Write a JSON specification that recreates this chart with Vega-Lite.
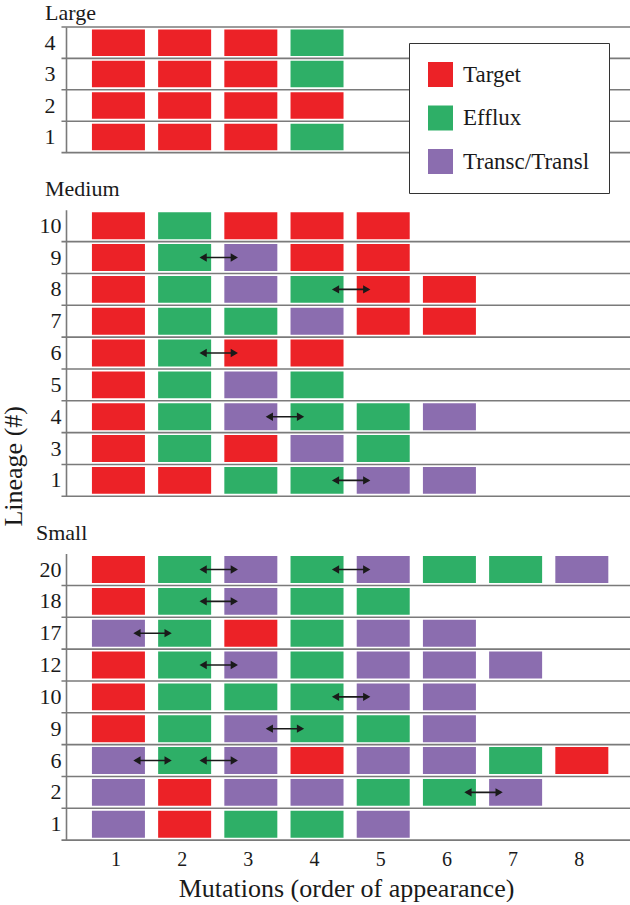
{
  "$schema": "https://vega.github.io/schema/vega-lite/v6.json",
  "autosize": {"type": "pad"},
  "padding": {"left": 0, "top": 2, "right": 0, "bottom": 0},
  "background": "white",
  "config": {
    "view": {"stroke": null},
    "font": "Liberation Serif",
    "axis": {"labelFont": "Liberation Serif", "titleFont": "Liberation Serif", "labelColor": "#1a1a1a", "titleColor": "#1a1a1a", "titleFontWeight": "normal"},
    "title": {"font": "Liberation Serif", "fontSize": 22, "fontWeight": "normal", "color": "#1a1a1a", "anchor": "start", "frame": "group", "dx": -21, "offset": 9},
    "legend": {"labelFont": "Liberation Serif", "labelFontSize": 23, "labelColor": "#1a1a1a", "symbolType": "square", "symbolSize": 625, "symbolStrokeWidth": 0, "symbolOpacity": 1, "labelOffset": 10, "rowPadding": 18.5, "padding": 19, "fillColor": "white", "strokeColor": "#333333"}
  },
  "datasets": {
    "cells": [
      {"panel": "Large", "lineage": "4", "mut": 1, "type": "Target"},
      {"panel": "Large", "lineage": "4", "mut": 2, "type": "Target"},
      {"panel": "Large", "lineage": "4", "mut": 3, "type": "Target"},
      {"panel": "Large", "lineage": "4", "mut": 4, "type": "Efflux"},
      {"panel": "Large", "lineage": "3", "mut": 1, "type": "Target"},
      {"panel": "Large", "lineage": "3", "mut": 2, "type": "Target"},
      {"panel": "Large", "lineage": "3", "mut": 3, "type": "Target"},
      {"panel": "Large", "lineage": "3", "mut": 4, "type": "Efflux"},
      {"panel": "Large", "lineage": "2", "mut": 1, "type": "Target"},
      {"panel": "Large", "lineage": "2", "mut": 2, "type": "Target"},
      {"panel": "Large", "lineage": "2", "mut": 3, "type": "Target"},
      {"panel": "Large", "lineage": "2", "mut": 4, "type": "Target"},
      {"panel": "Large", "lineage": "1", "mut": 1, "type": "Target"},
      {"panel": "Large", "lineage": "1", "mut": 2, "type": "Target"},
      {"panel": "Large", "lineage": "1", "mut": 3, "type": "Target"},
      {"panel": "Large", "lineage": "1", "mut": 4, "type": "Efflux"},

      {"panel": "Medium", "lineage": "10", "mut": 1, "type": "Target"},
      {"panel": "Medium", "lineage": "10", "mut": 2, "type": "Efflux"},
      {"panel": "Medium", "lineage": "10", "mut": 3, "type": "Target"},
      {"panel": "Medium", "lineage": "10", "mut": 4, "type": "Target"},
      {"panel": "Medium", "lineage": "10", "mut": 5, "type": "Target"},
      {"panel": "Medium", "lineage": "9", "mut": 1, "type": "Target"},
      {"panel": "Medium", "lineage": "9", "mut": 2, "type": "Efflux"},
      {"panel": "Medium", "lineage": "9", "mut": 3, "type": "Transc/Transl"},
      {"panel": "Medium", "lineage": "9", "mut": 4, "type": "Target"},
      {"panel": "Medium", "lineage": "9", "mut": 5, "type": "Target"},
      {"panel": "Medium", "lineage": "8", "mut": 1, "type": "Target"},
      {"panel": "Medium", "lineage": "8", "mut": 2, "type": "Efflux"},
      {"panel": "Medium", "lineage": "8", "mut": 3, "type": "Transc/Transl"},
      {"panel": "Medium", "lineage": "8", "mut": 4, "type": "Efflux"},
      {"panel": "Medium", "lineage": "8", "mut": 5, "type": "Target"},
      {"panel": "Medium", "lineage": "8", "mut": 6, "type": "Target"},
      {"panel": "Medium", "lineage": "7", "mut": 1, "type": "Target"},
      {"panel": "Medium", "lineage": "7", "mut": 2, "type": "Efflux"},
      {"panel": "Medium", "lineage": "7", "mut": 3, "type": "Efflux"},
      {"panel": "Medium", "lineage": "7", "mut": 4, "type": "Transc/Transl"},
      {"panel": "Medium", "lineage": "7", "mut": 5, "type": "Target"},
      {"panel": "Medium", "lineage": "7", "mut": 6, "type": "Target"},
      {"panel": "Medium", "lineage": "6", "mut": 1, "type": "Target"},
      {"panel": "Medium", "lineage": "6", "mut": 2, "type": "Efflux"},
      {"panel": "Medium", "lineage": "6", "mut": 3, "type": "Target"},
      {"panel": "Medium", "lineage": "6", "mut": 4, "type": "Target"},
      {"panel": "Medium", "lineage": "5", "mut": 1, "type": "Target"},
      {"panel": "Medium", "lineage": "5", "mut": 2, "type": "Efflux"},
      {"panel": "Medium", "lineage": "5", "mut": 3, "type": "Transc/Transl"},
      {"panel": "Medium", "lineage": "5", "mut": 4, "type": "Efflux"},
      {"panel": "Medium", "lineage": "4", "mut": 1, "type": "Target"},
      {"panel": "Medium", "lineage": "4", "mut": 2, "type": "Efflux"},
      {"panel": "Medium", "lineage": "4", "mut": 3, "type": "Transc/Transl"},
      {"panel": "Medium", "lineage": "4", "mut": 4, "type": "Efflux"},
      {"panel": "Medium", "lineage": "4", "mut": 5, "type": "Efflux"},
      {"panel": "Medium", "lineage": "4", "mut": 6, "type": "Transc/Transl"},
      {"panel": "Medium", "lineage": "3", "mut": 1, "type": "Target"},
      {"panel": "Medium", "lineage": "3", "mut": 2, "type": "Efflux"},
      {"panel": "Medium", "lineage": "3", "mut": 3, "type": "Target"},
      {"panel": "Medium", "lineage": "3", "mut": 4, "type": "Transc/Transl"},
      {"panel": "Medium", "lineage": "3", "mut": 5, "type": "Efflux"},
      {"panel": "Medium", "lineage": "1", "mut": 1, "type": "Target"},
      {"panel": "Medium", "lineage": "1", "mut": 2, "type": "Target"},
      {"panel": "Medium", "lineage": "1", "mut": 3, "type": "Efflux"},
      {"panel": "Medium", "lineage": "1", "mut": 4, "type": "Efflux"},
      {"panel": "Medium", "lineage": "1", "mut": 5, "type": "Transc/Transl"},
      {"panel": "Medium", "lineage": "1", "mut": 6, "type": "Transc/Transl"},

      {"panel": "Small", "lineage": "20", "mut": 1, "type": "Target"},
      {"panel": "Small", "lineage": "20", "mut": 2, "type": "Efflux"},
      {"panel": "Small", "lineage": "20", "mut": 3, "type": "Transc/Transl"},
      {"panel": "Small", "lineage": "20", "mut": 4, "type": "Efflux"},
      {"panel": "Small", "lineage": "20", "mut": 5, "type": "Transc/Transl"},
      {"panel": "Small", "lineage": "20", "mut": 6, "type": "Efflux"},
      {"panel": "Small", "lineage": "20", "mut": 7, "type": "Efflux"},
      {"panel": "Small", "lineage": "20", "mut": 8, "type": "Transc/Transl"},
      {"panel": "Small", "lineage": "18", "mut": 1, "type": "Target"},
      {"panel": "Small", "lineage": "18", "mut": 2, "type": "Efflux"},
      {"panel": "Small", "lineage": "18", "mut": 3, "type": "Transc/Transl"},
      {"panel": "Small", "lineage": "18", "mut": 4, "type": "Efflux"},
      {"panel": "Small", "lineage": "18", "mut": 5, "type": "Efflux"},
      {"panel": "Small", "lineage": "17", "mut": 1, "type": "Transc/Transl"},
      {"panel": "Small", "lineage": "17", "mut": 2, "type": "Efflux"},
      {"panel": "Small", "lineage": "17", "mut": 3, "type": "Target"},
      {"panel": "Small", "lineage": "17", "mut": 4, "type": "Efflux"},
      {"panel": "Small", "lineage": "17", "mut": 5, "type": "Transc/Transl"},
      {"panel": "Small", "lineage": "17", "mut": 6, "type": "Transc/Transl"},
      {"panel": "Small", "lineage": "12", "mut": 1, "type": "Target"},
      {"panel": "Small", "lineage": "12", "mut": 2, "type": "Efflux"},
      {"panel": "Small", "lineage": "12", "mut": 3, "type": "Transc/Transl"},
      {"panel": "Small", "lineage": "12", "mut": 4, "type": "Efflux"},
      {"panel": "Small", "lineage": "12", "mut": 5, "type": "Transc/Transl"},
      {"panel": "Small", "lineage": "12", "mut": 6, "type": "Transc/Transl"},
      {"panel": "Small", "lineage": "12", "mut": 7, "type": "Transc/Transl"},
      {"panel": "Small", "lineage": "10", "mut": 1, "type": "Target"},
      {"panel": "Small", "lineage": "10", "mut": 2, "type": "Efflux"},
      {"panel": "Small", "lineage": "10", "mut": 3, "type": "Efflux"},
      {"panel": "Small", "lineage": "10", "mut": 4, "type": "Efflux"},
      {"panel": "Small", "lineage": "10", "mut": 5, "type": "Transc/Transl"},
      {"panel": "Small", "lineage": "10", "mut": 6, "type": "Transc/Transl"},
      {"panel": "Small", "lineage": "9", "mut": 1, "type": "Target"},
      {"panel": "Small", "lineage": "9", "mut": 2, "type": "Efflux"},
      {"panel": "Small", "lineage": "9", "mut": 3, "type": "Transc/Transl"},
      {"panel": "Small", "lineage": "9", "mut": 4, "type": "Efflux"},
      {"panel": "Small", "lineage": "9", "mut": 5, "type": "Efflux"},
      {"panel": "Small", "lineage": "9", "mut": 6, "type": "Transc/Transl"},
      {"panel": "Small", "lineage": "6", "mut": 1, "type": "Transc/Transl"},
      {"panel": "Small", "lineage": "6", "mut": 2, "type": "Efflux"},
      {"panel": "Small", "lineage": "6", "mut": 3, "type": "Transc/Transl"},
      {"panel": "Small", "lineage": "6", "mut": 4, "type": "Target"},
      {"panel": "Small", "lineage": "6", "mut": 5, "type": "Transc/Transl"},
      {"panel": "Small", "lineage": "6", "mut": 6, "type": "Transc/Transl"},
      {"panel": "Small", "lineage": "6", "mut": 7, "type": "Efflux"},
      {"panel": "Small", "lineage": "6", "mut": 8, "type": "Target"},
      {"panel": "Small", "lineage": "2", "mut": 1, "type": "Transc/Transl"},
      {"panel": "Small", "lineage": "2", "mut": 2, "type": "Target"},
      {"panel": "Small", "lineage": "2", "mut": 3, "type": "Transc/Transl"},
      {"panel": "Small", "lineage": "2", "mut": 4, "type": "Transc/Transl"},
      {"panel": "Small", "lineage": "2", "mut": 5, "type": "Efflux"},
      {"panel": "Small", "lineage": "2", "mut": 6, "type": "Efflux"},
      {"panel": "Small", "lineage": "2", "mut": 7, "type": "Transc/Transl"},
      {"panel": "Small", "lineage": "1", "mut": 1, "type": "Transc/Transl"},
      {"panel": "Small", "lineage": "1", "mut": 2, "type": "Target"},
      {"panel": "Small", "lineage": "1", "mut": 3, "type": "Efflux"},
      {"panel": "Small", "lineage": "1", "mut": 4, "type": "Efflux"},
      {"panel": "Small", "lineage": "1", "mut": 5, "type": "Transc/Transl"}
    ],
    "arrows": [
      {"panel": "Medium", "lineage": "9", "from": 2, "to": 3},
      {"panel": "Medium", "lineage": "8", "from": 4, "to": 5},
      {"panel": "Medium", "lineage": "6", "from": 2, "to": 3},
      {"panel": "Medium", "lineage": "4", "from": 3, "to": 4},
      {"panel": "Medium", "lineage": "1", "from": 4, "to": 5},
      {"panel": "Small", "lineage": "20", "from": 2, "to": 3},
      {"panel": "Small", "lineage": "20", "from": 4, "to": 5},
      {"panel": "Small", "lineage": "18", "from": 2, "to": 3},
      {"panel": "Small", "lineage": "17", "from": 1, "to": 2},
      {"panel": "Small", "lineage": "12", "from": 2, "to": 3},
      {"panel": "Small", "lineage": "10", "from": 4, "to": 5},
      {"panel": "Small", "lineage": "9", "from": 3, "to": 4},
      {"panel": "Small", "lineage": "6", "from": 1, "to": 2},
      {"panel": "Small", "lineage": "6", "from": 2, "to": 3},
      {"panel": "Small", "lineage": "2", "from": 6, "to": 7}
    ]
  },
  "bounds": "flush",
  "spacing": 56.8,
  "vconcat": [
    {
      "width": 561,
      "height": 125.6,
      "title": {"text": "Large", "offset": 1},
      "layer": [
        {
          "data": {"name": "cells"},
          "transform": [{"filter": "datum.panel === 'Large' && datum.mut === 1"}],
          "mark": {"type": "rule", "color": "#7a7a7a", "strokeWidth": 1.6},
          "encoding": {
            "y": {"field": "lineage", "type": "nominal", "bandPosition": 1, "scale": {"domain": ["4", "3", "2", "1"], "padding": 0},
                  "axis": {"title": null, "domain": true, "domainColor": "#7a7a7a", "domainWidth": 1.6, "ticks": false, "grid": false, "labelPadding": 11, "labelFontSize": 22, "labelAngle": 0}},
            "x": {"datum": 0.1395, "type": "quantitative", "scale": {"domain": [0.2834, 8.607], "nice": false, "zero": false}, "axis": null},
            "x2": {"datum": 8.8}
          }
        },
        {
          "data": {"name": "cells"},
          "transform": [{"filter": "datum.panel === 'Large' && datum.mut === 1 && datum.lineage === '4'"}],
          "mark": {"type": "rule", "color": "#7a7a7a", "strokeWidth": 1.6},
          "encoding": {
            "y": {"field": "lineage", "type": "nominal", "bandPosition": 0, "scale": {"domain": ["4", "3", "2", "1"], "padding": 0}},
            "x": {"datum": 0.1395, "type": "quantitative", "scale": {"domain": [0.2834, 8.607], "nice": false, "zero": false}, "axis": null},
            "x2": {"datum": 8.8}
          }
        },
        {
          "data": {"name": "cells"},
          "transform": [{"filter": "datum.panel === 'Large'"}],
          "mark": {"type": "bar", "orient": "vertical", "width": 53, "height": {"band": 0.845}},
          "encoding": {
            "x": {"field": "mut", "type": "quantitative", "scale": {"domain": [0.2834, 8.607], "nice": false, "zero": false}, "axis": null},
            "y": {"field": "lineage", "type": "nominal", "scale": {"domain": ["4", "3", "2", "1"], "padding": 0}},
            "color": {"field": "type", "type": "nominal",
                      "scale": {"domain": ["Target", "Efflux", "Transc/Transl"], "range": ["#EC2227", "#2EAF67", "#8B6DAF"]},
                      "legend": {"title": null, "orient": "none", "legendX": 343, "legendY": 16}}
          }
        }
      ]
    },
    {
      "width": 561,
      "height": 286.5,
      "title": {"text": "Medium", "offset": 9},
      "layer": [
        {
          "data": {"name": "cells"},
          "transform": [{"filter": "datum.panel === 'Medium' && datum.mut === 1"}],
          "mark": {"type": "rule", "color": "#7a7a7a", "strokeWidth": 1.6},
          "encoding": {
            "y": {"field": "lineage", "type": "nominal", "bandPosition": 1, "scale": {"domain": ["10", "9", "8", "7", "6", "5", "4", "3", "1"], "padding": 0},
                  "axis": {"title": "Lineage (#)", "titleFontSize": 26, "titleAngle": -90, "titleX": -66, "titleY": 256, "titleAlign": "center", "titleBaseline": "top",
                           "domain": true, "domainColor": "#7a7a7a", "domainWidth": 1.6, "ticks": false, "grid": false, "labelPadding": 5, "labelFontSize": 22, "labelAngle": 0}},
            "x": {"datum": 0.1395, "type": "quantitative", "scale": {"domain": [0.2834, 8.607], "nice": false, "zero": false}, "axis": null},
            "x2": {"datum": 8.8}
          }
        },
        {
          "data": {"name": "cells"},
          "transform": [{"filter": "datum.panel === 'Medium'"}],
          "mark": {"type": "bar", "orient": "vertical", "width": 53, "height": {"band": 0.845}},
          "encoding": {
            "x": {"field": "mut", "type": "quantitative", "scale": {"domain": [0.2834, 8.607], "nice": false, "zero": false}, "axis": null},
            "y": {"field": "lineage", "type": "nominal", "scale": {"domain": ["10", "9", "8", "7", "6", "5", "4", "3", "1"], "padding": 0}},
            "color": {"field": "type", "type": "nominal",
                      "scale": {"domain": ["Target", "Efflux", "Transc/Transl"], "range": ["#EC2227", "#2EAF67", "#8B6DAF"]},
                      "legend": {"title": null, "orient": "none", "legendX": 343, "legendY": 16}}
          }
        },
        {
          "data": {"name": "arrows"},
          "transform": [{"filter": "datum.panel === 'Medium'"}],
          "mark": {"type": "rule", "color": "#1a1a1a", "strokeWidth": 1.6, "xOffset": 17, "x2Offset": -15},
          "encoding": {
            "x": {"field": "from", "type": "quantitative", "scale": {"domain": [0.2834, 8.607], "nice": false, "zero": false}, "axis": null},
            "x2": {"field": "to"},
            "y": {"field": "lineage", "type": "nominal", "scale": {"domain": ["10", "9", "8", "7", "6", "5", "4", "3", "1"], "padding": 0}}
          }
        },
        {
          "data": {"name": "arrows"},
          "transform": [{"filter": "datum.panel === 'Medium'"}],
          "mark": {"type": "point", "shape": "triangle-left", "filled": true, "color": "#1a1a1a", "opacity": 1, "size": 70, "xOffset": 18.5},
          "encoding": {
            "x": {"field": "from", "type": "quantitative", "scale": {"domain": [0.2834, 8.607], "nice": false, "zero": false}, "axis": null},
            "y": {"field": "lineage", "type": "nominal", "scale": {"domain": ["10", "9", "8", "7", "6", "5", "4", "3", "1"], "padding": 0}}
          }
        },
        {
          "data": {"name": "arrows"},
          "transform": [{"filter": "datum.panel === 'Medium'"}],
          "mark": {"type": "point", "shape": "triangle-right", "filled": true, "color": "#1a1a1a", "opacity": 1, "size": 70, "xOffset": -16.5},
          "encoding": {
            "x": {"field": "to", "type": "quantitative", "scale": {"domain": [0.2834, 8.607], "nice": false, "zero": false}, "axis": null},
            "y": {"field": "lineage", "type": "nominal", "scale": {"domain": ["10", "9", "8", "7", "6", "5", "4", "3", "1"], "padding": 0}}
          }
        }
      ]
    },
    {
      "width": 561,
      "height": 286.5,
      "title": {"text": "Small", "dx": -30, "offset": 9},
      "layer": [
        {
          "data": {"name": "cells"},
          "transform": [{"filter": "datum.panel === 'Small' && datum.mut === 1"}],
          "mark": {"type": "rule", "color": "#7a7a7a", "strokeWidth": 1.6},
          "encoding": {
            "y": {"field": "lineage", "type": "nominal", "bandPosition": 1, "scale": {"domain": ["20", "18", "17", "12", "10", "9", "6", "2", "1"], "padding": 0},
                  "axis": {"title": null, "domain": true, "domainColor": "#7a7a7a", "domainWidth": 1.6, "ticks": false, "grid": false, "labelPadding": 5, "labelFontSize": 22, "labelAngle": 0}},
            "x": {"datum": 0.1395, "type": "quantitative", "scale": {"domain": [0.2834, 8.607], "nice": false, "zero": false}},
            "x2": {"datum": 8.8}
          }
        },
        {
          "data": {"name": "cells"},
          "transform": [{"filter": "datum.panel === 'Small'"}],
          "mark": {"type": "bar", "orient": "vertical", "width": 53, "height": {"band": 0.845}},
          "encoding": {
            "x": {"field": "mut", "type": "quantitative", "scale": {"domain": [0.2834, 8.607], "nice": false, "zero": false},
                  "axis": {"values": [1, 2, 3, 4, 5, 6, 7, 8], "format": "d", "title": "Mutations (order of appearance)", "titleFontSize": 26, "titleX": 280, "titleAlign": "center", "titlePadding": 6,
                           "domain": false, "ticks": false, "grid": false, "labelFontSize": 20, "labelPadding": 9, "labelOffset": -3}},
            "y": {"field": "lineage", "type": "nominal", "scale": {"domain": ["20", "18", "17", "12", "10", "9", "6", "2", "1"], "padding": 0}},
            "color": {"field": "type", "type": "nominal",
                      "scale": {"domain": ["Target", "Efflux", "Transc/Transl"], "range": ["#EC2227", "#2EAF67", "#8B6DAF"]},
                      "legend": {"title": null, "orient": "none", "legendX": 343, "legendY": 16}}
          }
        },
        {
          "data": {"name": "arrows"},
          "transform": [{"filter": "datum.panel === 'Small'"}],
          "mark": {"type": "rule", "color": "#1a1a1a", "strokeWidth": 1.6, "xOffset": 17, "x2Offset": -15},
          "encoding": {
            "x": {"field": "from", "type": "quantitative", "scale": {"domain": [0.2834, 8.607], "nice": false, "zero": false}},
            "x2": {"field": "to"},
            "y": {"field": "lineage", "type": "nominal", "scale": {"domain": ["20", "18", "17", "12", "10", "9", "6", "2", "1"], "padding": 0}}
          }
        },
        {
          "data": {"name": "arrows"},
          "transform": [{"filter": "datum.panel === 'Small'"}],
          "mark": {"type": "point", "shape": "triangle-left", "filled": true, "color": "#1a1a1a", "opacity": 1, "size": 70, "xOffset": 18.5},
          "encoding": {
            "x": {"field": "from", "type": "quantitative", "scale": {"domain": [0.2834, 8.607], "nice": false, "zero": false}},
            "y": {"field": "lineage", "type": "nominal", "scale": {"domain": ["20", "18", "17", "12", "10", "9", "6", "2", "1"], "padding": 0}}
          }
        },
        {
          "data": {"name": "arrows"},
          "transform": [{"filter": "datum.panel === 'Small'"}],
          "mark": {"type": "point", "shape": "triangle-right", "filled": true, "color": "#1a1a1a", "opacity": 1, "size": 70, "xOffset": -16.5},
          "encoding": {
            "x": {"field": "to", "type": "quantitative", "scale": {"domain": [0.2834, 8.607], "nice": false, "zero": false}},
            "y": {"field": "lineage", "type": "nominal", "scale": {"domain": ["20", "18", "17", "12", "10", "9", "6", "2", "1"], "padding": 0}}
          }
        }
      ]
    }
  ]
}
